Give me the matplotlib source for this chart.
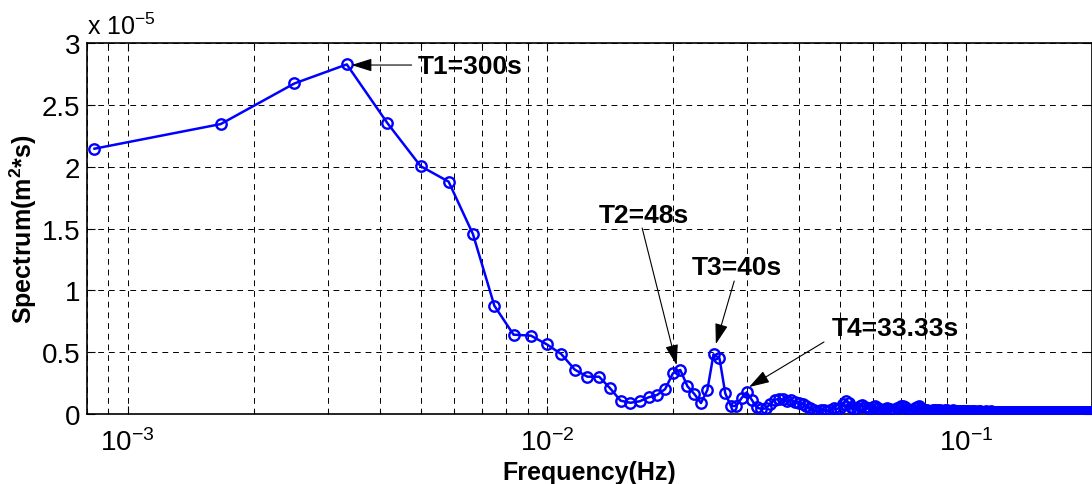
import numpy as np
import matplotlib
matplotlib.use("Agg")
import matplotlib.pyplot as plt
from matplotlib.ticker import FixedLocator, LogLocator, NullFormatter

plt.rcParams['font.family'] = ['Liberation Sans', 'DejaVu Sans']
plt.rcParams['mathtext.fontset'] = 'custom'
plt.rcParams['mathtext.rm'] = 'Liberation Sans'
plt.rcParams['mathtext.bf'] = 'Liberation Sans:bold'

# spectrum values in units of 1e-5 m^2*s, one per FFT bin (record length 1200 s)
record_len = 1200.0
spectrum_e5 = [
    2.147, 2.346, 2.675, 2.829, 2.354, 2.006, 1.880, 1.456, 0.876, 0.642,
    0.634, 0.564, 0.485, 0.359, 0.302, 0.302, 0.208, 0.108, 0.091, 0.103,
    0.135, 0.154, 0.202, 0.329, 0.356, 0.224, 0.162, 0.089, 0.194, 0.483,
    0.451, 0.167, 0.065, 0.065, 0.129, 0.175, 0.116, 0.054, 0.040, 0.046,
    0.081, 0.116, 0.121, 0.118, 0.105, 0.112, 0.098, 0.090, 0.081, 0.064,
    0.045, 0.030, 0.024, 0.036, 0.031, 0.022, 0.034, 0.046, 0.040, 0.052,
    0.083, 0.105, 0.092, 0.058, 0.040, 0.048, 0.066, 0.072, 0.060, 0.045,
    0.040, 0.055, 0.062, 0.050, 0.035, 0.030, 0.042, 0.048, 0.037, 0.030,
    0.034, 0.045, 0.052, 0.061, 0.068, 0.057, 0.044, 0.036, 0.030, 0.033,
    0.045, 0.058, 0.062, 0.048, 0.034, 0.030, 0.032, 0.027, 0.025, 0.029,
    0.032, 0.036, 0.034, 0.029, 0.026, 0.028, 0.031, 0.029, 0.025, 0.024,
    0.027, 0.030, 0.028, 0.024, 0.022, 0.025, 0.027, 0.024, 0.021, 0.022,
    0.024, 0.023, 0.020, 0.021, 0.023, 0.022, 0.020, 0.019, 0.021, 0.022,
    0.020, 0.019, 0.020, 0.021, 0.019, 0.018, 0.020, 0.021, 0.019, 0.018,
    0.019, 0.020, 0.018, 0.017, 0.019, 0.020, 0.018, 0.017, 0.018, 0.019,
    0.018, 0.017, 0.018, 0.019, 0.017, 0.016, 0.018, 0.019, 0.017, 0.016,
    0.017, 0.018, 0.017, 0.016, 0.017, 0.018, 0.016, 0.015, 0.017, 0.018,
    0.016, 0.015, 0.016, 0.017, 0.016, 0.015, 0.016, 0.017, 0.015, 0.015,
    0.016, 0.017, 0.015, 0.014, 0.016, 0.017, 0.015, 0.014, 0.015, 0.016,
    0.015, 0.014, 0.015, 0.016, 0.015, 0.014, 0.015, 0.016, 0.014, 0.014,
    0.015, 0.016, 0.014, 0.013, 0.015, 0.016, 0.014, 0.013, 0.014, 0.015,
    0.014, 0.013, 0.014, 0.015, 0.014, 0.013, 0.014, 0.015, 0.013, 0.013,
    0.014, 0.015, 0.013, 0.012, 0.014, 0.015, 0.013, 0.012, 0.013, 0.014,
    0.013, 0.012, 0.013, 0.014, 0.013, 0.012, 0.013, 0.014, 0.012, 0.012,
]
freq = np.arange(1, len(spectrum_e5) + 1) / record_len

y_ticks = [0, 0.5, 1, 1.5, 2, 2.5, 3]
y_ticklabels = ['0', '0.5', '1', '1.5', '2', '2.5', '3']
x_ticks = [1e-3, 1e-2, 1e-1]
x_ticklabels = [r'$\mathregular{10^{-3}}$', r'$\mathregular{10^{-2}}$', r'$\mathregular{10^{-1}}$']

# peak labels: text, text position, arrow tail, arrow tip
labels = ['T1=300s', 'T2=48s', 'T3=40s', 'T4=33.33s']
text_pos = [(0.00492, 2.82), (0.01709, 1.61), (0.02847, 1.19), (0.0679, 0.70)]
arrow_tail = [(0.00476, 2.824), (0.01689, 1.505), (0.02801, 1.076), (0.04587, 0.583)]
arrow_tip = [(0.00342, 2.824), (0.02041, 0.396), (0.02532, 0.566), (0.03039, 0.218)]

fig = plt.figure(figsize=(10.92, 4.85), dpi=100)
ax = fig.add_axes([0.0797, 0.1443, 0.9203, 0.7644])

ax.plot(freq, spectrum_e5, color='#0000ff', lw=1.8, marker='o', ms=7.5,
        mfc='none', mec='#0000ff', mew=1.7, zorder=3)

ax.set_xscale('log')
ax.set_xlim(8e-4, 0.2)
ax.set_ylim(0, 3)

ax.xaxis.set_major_locator(FixedLocator(x_ticks))
ax.set_xticklabels(x_ticklabels)
ax.xaxis.set_minor_locator(LogLocator(base=10, subs=np.arange(2, 10)))
ax.xaxis.set_minor_formatter(NullFormatter())
ax.set_yticks(y_ticks)
ax.set_yticklabels(y_ticklabels)

ax.tick_params(which='both', direction='in', top=True, right=True,
               labelsize=20, width=0.8, color='black')
ax.tick_params(which='major', length=6)
ax.tick_params(which='minor', length=3)
ax.tick_params(axis='x', pad=10)
ax.tick_params(axis='y', pad=5)

grid_style = dict(color='black', linestyle=(0, (6, 5)), linewidth=0.7)
ax.grid(True, which='major', axis='both', **grid_style)
ax.grid(True, which='minor', axis='x', **grid_style)
ax.set_axisbelow(True)

for sp in ax.spines.values():
    sp.set_linewidth(1.2)

ax.set_xlabel('Frequency(Hz)', fontsize=18, fontweight='bold', labelpad=3)
ax.set_ylabel(r'Spectrum(m$\mathbf{^2}$*s)', fontsize=18, fontweight='bold')
ax.yaxis.set_label_coords(-0.048, 0.5)

ax.text(0.0, 1.012, r'x $\mathregular{10^{-5}}$', transform=ax.transAxes,
        ha='left', va='bottom', fontsize=18)

for lab, tp, tail, tip in zip(labels, text_pos, arrow_tail, arrow_tip):
    ax.annotate('', xy=tip, xytext=tail,
                arrowprops=dict(arrowstyle='-|>,head_length=0.7,head_width=0.22',
                                color='black', lw=0.8, shrinkA=0, shrinkB=0,
                                mutation_scale=18))
    ha = 'left' if lab == 'T1=300s' else 'center'
    ax.text(tp[0], tp[1], lab, ha=ha, va='center', fontsize=19, fontweight='bold')

fig.savefig('out.png', dpi=100)
